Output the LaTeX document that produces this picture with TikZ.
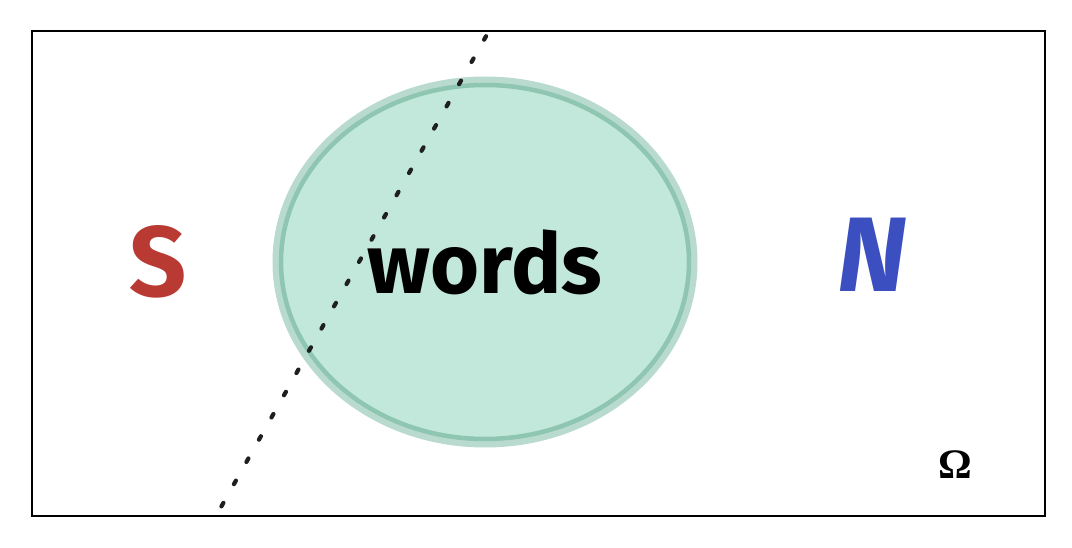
\documentclass[tikz,border=0pt]{standalone}
\usepackage{fontspec}
\setmainfont{Fira Sans}
\newfontfamily\omegafont{Liberation Serif}
\definecolor{setfill}{HTML}{C2E8DB}
\definecolor{setrim}{HTML}{B8DACF}
\definecolor{setedge}{HTML}{8EC6B2}
\definecolor{sred}{HTML}{B83A32}
\definecolor{nblue}{HTML}{3B4FC0}

\begin{document}
\begin{tikzpicture}[x=1pt,y=-1pt]
\useasboundingbox (0,0) rectangle (1072,548);
% universe
\draw[line width=2.4pt] (32,31) rectangle (1045,516);
% the set of words
\fill[setfill] (485,262) ellipse [x radius=212, y radius=185];
\draw[setrim, line width=9pt] (485,262) ellipse [x radius=208, y radius=181];
\draw[setedge, line width=4.5pt] (485,262) ellipse [x radius=204, y radius=177];
% separating line
\coordinate (top) at (489,31);
\coordinate (bot) at (216,516);
\draw[line width=4.2pt, line cap=round, dash pattern=on 4pt off 21.5pt, dash phase=-6pt, black!88] (top) -- (bot);
\node[anchor=center, inner sep=0pt] (words) at (485,262) {\fontsize{84}{90}\selectfont\bfseries words};
\node[anchor=center, inner sep=0pt, text=sred] (spam) at (158,262) {\fontsize{100}{110}\selectfont\bfseries S};
\node[anchor=center, inner sep=0pt, text=nblue] (ham) at (872,255) {\fontsize{106}{116}\selectfont\bfseries\itshape N};
\node[anchor=center, inner sep=0pt] (omega) at (955,465) {\fontsize{42}{46}\selectfont\omegafont\bfseries Ω};
\end{tikzpicture}
\end{document}
